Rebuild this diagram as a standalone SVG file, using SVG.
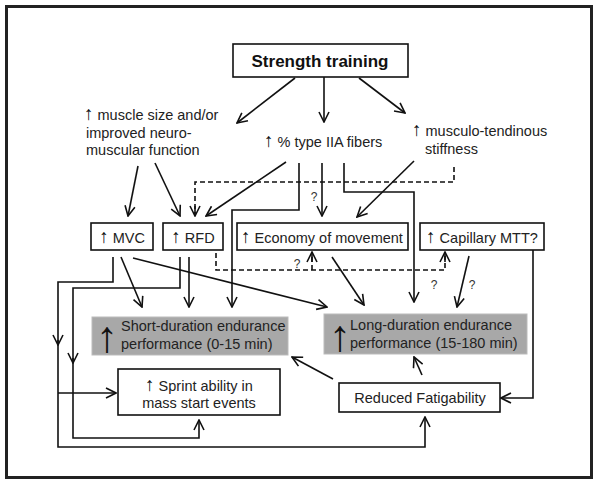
<svg xmlns="http://www.w3.org/2000/svg" width="597" height="483" viewBox="0 0 597 483">
<defs>
<marker id="a" viewBox="0 0 12 12" refX="11" refY="6" markerWidth="12" markerHeight="12" markerUnits="userSpaceOnUse" orient="auto">
<path d="M1,1 L11,6 L1,11" fill="none" stroke="#111" stroke-width="1.6"/>
</marker>
<style>
text{font-family:"Liberation Sans",Arial,sans-serif;font-size:14.5px;fill:#222}
.u{font-size:19px;font-weight:bold;fill:#111}
.U{font-size:44px;fill:#111}
.b{fill:#fff;stroke:#111;stroke-width:1.6}
.g{fill:#a8a8a8;stroke:#bbb;stroke-width:1}
.c{fill:none;stroke:#111;stroke-width:1.6;marker-end:url(#a)}
.d{fill:none;stroke:#111;stroke-width:1.6;stroke-dasharray:5,3}
.q{font-size:12px;fill:#333}
.m{text-anchor:middle}
</style>
</defs>
<rect x="0" y="0" width="597" height="483" fill="#fff"/>
<rect x="6.5" y="6.5" width="585" height="471" fill="none" stroke="#222" stroke-width="3"/>

<g id="strength-training">
<rect class="b" x="233" y="44" width="175" height="33"/>
<text x="320" y="67" class="m" style="font-weight:bold;font-size:17px;fill:#111">Strength training</text>
</g>
<g id="muscle-size">
<text x="84" y="120"><tspan class="u">↑</tspan> muscle size and/or</text>
<text x="86" y="137.5">improved neuro-</text>
<text x="86" y="155">muscular function</text>
</g>
<g id="type-IIA">
<text x="264" y="147"><tspan class="u">↑</tspan> % type IIA fibers</text>
</g>
<g id="stiffness">
<text x="412" y="136"><tspan class="u">↑</tspan> musculo-tendinous</text>
<text x="425" y="154">stiffness</text>
</g>
<g id="mvc">
<rect class="b" x="91" y="223" width="62" height="27"/>
<text x="122" y="243" class="m"><tspan class="u">↑</tspan> MVC</text>
</g>
<g id="rfd">
<rect class="b" x="163" y="223" width="60" height="27"/>
<text x="193" y="243" class="m"><tspan class="u">↑</tspan> RFD</text>
</g>
<g id="economy">
<rect class="b" x="237" y="223" width="171" height="27"/>
<text x="322" y="243" class="m"><tspan class="u">↑</tspan> Economy of movement</text>
</g>
<g id="capillary">
<rect class="b" x="420" y="223" width="124" height="27"/>
<text x="482" y="243" class="m"><tspan class="u">↑</tspan> Capillary MTT?</text>
</g>
<g id="short-duration">
<rect class="g" x="92" y="317" width="196" height="38"/>
<text x="107" y="352" class="m U">↑</text>
<text x="121" y="331">Short-duration endurance</text>
<text x="121" y="349">performance (0-15 min)</text>
</g>
<g id="long-duration">
<rect class="g" x="324" y="314" width="203" height="40"/>
<text x="340" y="351" class="m U">↑</text>
<text x="350" y="330">Long-duration endurance</text>
<text x="350" y="348">performance (15-180 min)</text>
</g>
<g id="sprint">
<rect class="b" x="118" y="369" width="162" height="46"/>
<text x="199" y="391" class="m"><tspan class="u">↑</tspan> Sprint ability in</text>
<text x="199" y="408" class="m">mass start events</text>
</g>
<g id="fatigability">
<rect class="b" x="339" y="383" width="161" height="29"/>
<text x="420" y="403" class="m">Reduced Fatigability</text>
</g>

<g id="connectors">
<path class="c" d="M295,78 L237,123"/>
<path class="c" d="M324,77 V122"/>
<path class="c" d="M359,78 L405,113"/>
<path class="c" d="M138,166 L128,216"/>
<path class="c" d="M155,163 L180,216"/>
<path class="c" d="M286,162 L206,216"/>
<path class="d" d="M454,167 V182 H195 V214"/>
<path class="c" d="M195,206 V216"/>
<path class="c" d="M299,163 V210 H232 V307"/>
<path class="c" d="M322,163 V216"/>
<path class="c" d="M344,163 V192 H414 V302"/>
<path class="c" d="M414,161 L357,217"/>
<path class="c" d="M113,257 V282 H58 V345"/>
<path class="c" d="M58,340 V447 H425 V417"/>
<path class="c" d="M58,393 H116"/>
<path class="c" d="M121,257 L142,307"/>
<path class="c" d="M133,258 L327,307"/>
<path class="c" d="M180,257 V288 H73 V363"/>
<path class="c" d="M73,358 V438 H199 V420"/>
<path class="c" d="M189,257 V307"/>
<path class="d" d="M216,253 V270 H445 V256"/>
<path class="d" d="M312,270 V256"/>
<path class="c" d="M312,262 V252"/>
<path class="c" d="M445,262 V252"/>
<path class="c" d="M332,257 L364,305"/>
<path class="c" d="M469,256 L457,307"/>
<path class="c" d="M533,250 V398 H501"/>
<path class="c" d="M333,379 L292,357"/>
<path class="c" d="M422,375 L414,357"/>
<text x="314" y="201" class="q m">?</text>
<text x="297" y="268" class="q m">?</text>
<text x="434" y="289" class="q m">?</text>
<text x="472" y="289" class="q m">?</text>
</g>
</svg>
